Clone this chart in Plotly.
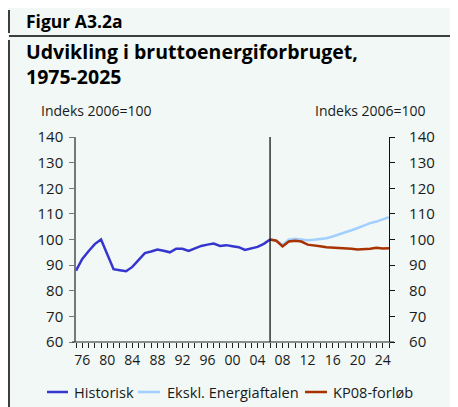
import plotly.graph_objects as go

# ---- data ----
hist_years = list(range(1975, 2007))
hist_vals = [87.8, 92.4, 95.4, 98.2, 100.0, 94.2, 88.4, 88.0, 87.6, 89.3,
             92.0, 94.7, 95.3, 96.1, 95.6, 95.0, 96.4, 96.4, 95.5, 96.5,
             97.5, 98.0, 98.4, 97.5, 97.8, 97.4, 97.0, 95.9, 96.5, 97.1,
             98.3, 100.0]
proj_years = list(range(2006, 2026))
ekskl_vals = [100.0, 99.5, 97.9, 99.9, 100.3, 100.1, 99.7, 99.9, 100.1, 100.5,
              101.2, 101.9, 102.6, 103.6, 104.5, 105.6, 106.4, 107.0, 107.9, 108.7]
kp08_vals = [100.0, 99.5, 97.3, 99.2, 99.5, 99.2, 98.0, 97.8, 97.4, 97.0,
             96.9, 96.8, 96.5, 96.4, 96.1, 96.2, 96.4, 96.8, 96.5, 96.6]
x_tick_years = list(range(1976, 2025, 4))
x_tick_labels = [str(y)[-2:] for y in x_tick_years]
series_names = ["Historisk", "Ekskl. Energiaftalen", "KP08-forløb"]
series_colors = ["#3535cf", "#a3cfff", "#a93300"]

# page is offset by the browser's default 8px body margin
OFF = 8
W, H = 458, 407                 # reference picture size
L, R, T, B = 76, 389, 137, 342  # plot area in reference pixels
BG = "#f1f8f5"
FONT = "Open Sans"
TXT = "#1a1a1a"


def px(x):
    return (x - L) / (R - L)


def py(y):
    return (B - y) / (B - T)


fig = go.Figure()
fig.add_trace(go.Scatter(x=hist_years, y=hist_vals, mode="lines", name=series_names[0],
                         line=dict(color=series_colors[0], width=2.5)))
fig.add_trace(go.Scatter(x=proj_years, y=ekskl_vals, mode="lines", name=series_names[1],
                         line=dict(color=series_colors[1], width=2.5), yaxis="y2"))
fig.add_trace(go.Scatter(x=proj_years, y=kp08_vals, mode="lines", name=series_names[2],
                         line=dict(color=series_colors[2], width=2.5), yaxis="y2"))

shapes = []
# frame lines
shapes.append(dict(type="line", xref="paper", yref="paper", x0=px(9), x1=px(9), y0=py(10), y1=py(33),
                   line=dict(color="black", width=1.5)))
shapes.append(dict(type="line", xref="paper", yref="paper", x0=px(9), x1=px(W), y0=py(36), y1=py(36),
                   line=dict(color="black", width=1.5)))
shapes.append(dict(type="line", xref="paper", yref="paper", x0=px(9), x1=px(9), y0=py(40), y1=py(H),
                   line=dict(color="black", width=1.5)))
# x-axis baseline extending past both axes
shapes.append(dict(type="line", xref="paper", yref="paper", x0=px(72), x1=px(394), y0=0, y1=0,
                   line=dict(color="#222", width=1.2)))
# divider at 2006
shapes.append(dict(type="line", xref="x", yref="paper", x0=2006, x1=2006, y0=0, y1=1,
                   line=dict(color="black", width=1.2)))

annotations = []
annotations.append(dict(text="<b>Figur A3.2a</b>", xref="paper", yref="paper", x=px(24), y=py(21),
                        xanchor="left", yanchor="middle", showarrow=False,
                        font=dict(family=FONT, size=17.5, color="black")))
annotations.append(dict(text="<b>Udvikling i bruttoenergiforbruget,<br>1975-2025</b>", xref="paper",
                        yref="paper", x=px(24), y=py(64), xanchor="left", yanchor="middle",
                        showarrow=False, align="left",
                        font=dict(family=FONT, size=19.5, color="black")))
annotations.append(dict(text="Indeks 2006=100", xref="paper", yref="paper", x=px(39), y=py(110),
                        xanchor="left", yanchor="middle", showarrow=False,
                        font=dict(family=FONT, size=14, color=TXT)))
annotations.append(dict(text="Indeks 2006=100", xref="paper", yref="paper", x=px(428), y=py(110),
                        xanchor="right", yanchor="middle", showarrow=False,
                        font=dict(family=FONT, size=14, color=TXT)))

# manual legend
leg_y = 392
leg_items = [(47, 68, 72), (138, 160, 165), (305, 327, 331)]
for (lx0, lx1, tx), name, col in zip(leg_items, series_names, series_colors):
    shapes.append(dict(type="line", xref="paper", yref="paper", x0=px(lx0), x1=px(lx1),
                       y0=py(leg_y), y1=py(leg_y), line=dict(color=col, width=2.5)))
    annotations.append(dict(text=name, xref="paper", yref="paper", x=px(tx), y=py(leg_y),
                            xanchor="left", yanchor="middle", showarrow=False,
                            font=dict(family=FONT, size=14.6, color=TXT)))

fig.update_layout(
    width=W - OFF, height=H - OFF, autosize=False,
    margin=dict(l=L - OFF, r=W - R, t=T - OFF, b=H - B, pad=0),
    paper_bgcolor=BG, plot_bgcolor=BG,
    showlegend=False,
    font=dict(family=FONT, size=15, color=TXT),
    xaxis=dict(range=[1975, 2025], tickvals=x_tick_years, ticktext=x_tick_labels,
               ticks="outside", ticklen=5, tickcolor="#222", showgrid=False, zeroline=False,
               showline=False, tickfont=dict(size=14),
               minor=dict(dtick=1, tick0=1975, ticks="outside", ticklen=5, tickcolor="#222")),
    yaxis=dict(range=[60, 140], dtick=10, ticks="outside", ticklen=5, tickcolor="#777",
               showgrid=False, zeroline=False, showline=True, linecolor="#777", linewidth=1.5,
               ticklabelstandoff=3, tickfont=dict(size=15)),
    yaxis2=dict(range=[60, 140], dtick=10, ticks="outside", ticklen=5, tickcolor="#111",
                overlaying="y", side="right", showgrid=False, zeroline=False, showline=True,
                linecolor="#111", linewidth=1.2, ticklabelstandoff=11, tickfont=dict(size=15)),
    shapes=shapes, annotations=annotations,
)

fig.write_html("out.html")
